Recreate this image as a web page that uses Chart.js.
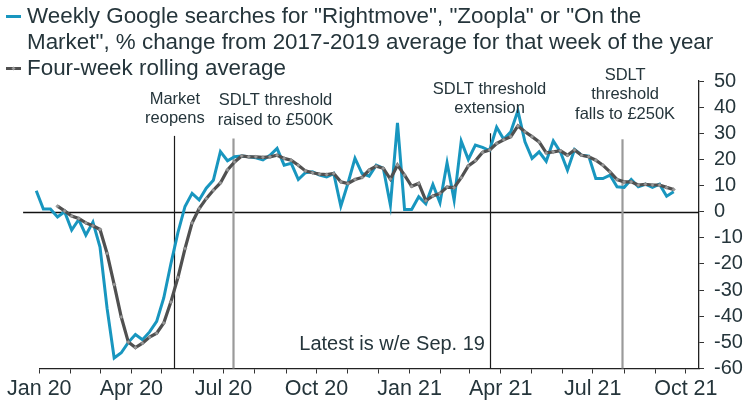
<!DOCTYPE html>
<html>
<head>
<meta charset="utf-8">
<script src="https://cdn.jsdelivr.net/npm/chart.js@4.4.1/dist/chart.umd.min.js"></script>
<style>
  html, body { margin: 0; padding: 0; background: #ffffff; }
  #wrap { position: relative; width: 750px; height: 412px; }
</style>
</head>
<body>
<div id="wrap"><canvas id="chart" width="750" height="412"></canvas></div>
<script>
// ---------------- DATA ----------------
const firstWeekEnding = '2019-12-29';   // weekly series, one value per week, ending Sundays
const latestWeekEnding = '2021-09-19';

// Weekly Google searches, % change from 2017-2019 average for that week
const weeklySearches = [
  8, 1, 1, -2, 0, -7, -3, -9, -4, -13.5,
  -37, -56, -54, -50, -47, -49, -46, -42, -33, -20,
  -8, 2, 7, 4.5, 9, 12, 23, 19.5, 21, 21.3,
  21, 20.6, 19.8, 21.6, 24.2, 17.8, 18.5, 12.3, 14.9, 15.3,
  14, 13.3, 14.6, 2.1, 10.8, 20.4, 14.6, 13.6, 17.8, 16.6,
  2.5, 34, 0.8, 0.8, 5.7, 3, 10.4, 3.4, 18.7, 4.4,
  27, 20, 25.5, 24.6, 23.4, 32.3, 27.7, 30.6, 38.6, 26.7,
  20.4, 22.9, 19.3, 27.1, 22.9, 15.9, 23.8, 21.6, 21.3, 12.7,
  12.7, 14, 9.5, 9.3, 12.3, 9.5, 10.5, 9.3, 10.5, 5.9,
  7.6
];

// Four-week rolling average
const rollingAverage = [
  null, null, null, 2.1, 0.3, -1.7, -2.6, -4.3, -5.4, -6.8,
  -16, -27.9, -40.3, -49.9, -52, -50.3, -48, -46.5, -42.6, -34.6,
  -25.2, -14.1, -4.3, 1.2, 5, 8.2, 11, 16, 19, 21.3,
  21, 21, 20.8, 21, 21.6, 20.4, 19.7, 17.8, 15.6, 14.9,
  14.4, 14.2, 14.6, 11.4, 10.8, 12.3, 13.1, 15.9, 17.4, 16.6,
  12.5, 17.8, 14, 9.7, 10.8, 4.2, 6, 7, 9.4, 9.2,
  13, 17.5, 19.5, 22.7, 23.6, 26.1, 27.5, 28.7, 32.8, 30.6,
  28.7, 26.7, 22.5, 22.9, 23.3, 21.6, 23.6, 21.6, 21, 19.7,
  17.8, 15.2, 12.3, 11.4, 11.4, 10.2, 10.5, 10.2, 10.2, 9.3,
  8.5
];

// Axis
const xAxisStart = '2020-01-01';
const xAxisEnd = '2021-10-14';
const monthTickCount = 22;                // Jan 20 .. Oct 21
const monthNames = ['Jan','Feb','Mar','Apr','May','Jun','Jul','Aug','Sep','Oct','Nov','Dec'];
const labelledMonths = [0, 3, 6, 9];
const yMin = -60, yMax = 50, yStep = 10;
const zeroLineFrom = '2019-12-16';

// Legend texts
const legendSeries1 = ['Weekly Google searches for "Rightmove", "Zoopla" or "On the',
                       'Market", % change from 2017-2019 average for that week of the year'];
const legendSeries2 = ['Four-week rolling average'];
const footnote = 'Latest is w/e Sep. 19';

// Events (date, top of marker line in % units, label lines)
const eventDates = ['2020-05-13', '2020-07-10', '2021-03-21', '2021-07-30'];
const eventTops = [29, 28, 30, 27.7];
const eventLabels = [
  ['Market', 'reopens'],
  ['SDLT threshold', 'raised to £500K'],
  ['SDLT threshold', 'extension'],
  ['SDLT', 'threshold', 'falls to £250K']
];

// ---------------- STYLE ----------------
const TEXT = '#25353b';
const BLUE = '#1896bf';
const GREY = '#505050';
const FONT = '"Liberation Sans", Arial, sans-serif';
const eventStyles = [
  { color: '#1b1b1b', width: 1.2, dx: 1,  y0: 99,  lh: 19.5 },
  { color: '#9a9a9a', width: 2.2, dx: 43, y0: 100, lh: 20 },
  { color: '#1b1b1b', width: 1.2, dx: 0,  y0: 89,  lh: 19.5 },
  { color: '#9a9a9a', width: 2.2, dx: 3,  y0: 75,  lh: 19.5 }
];

// ---------------- HELPERS ----------------
const dayOf = s => (Date.UTC(+s.slice(0,4), +s.slice(5,7) - 1, +s.slice(8,10)) - Date.UTC(2020, 0, 1)) / 864e5;
const firstDay = dayOf(firstWeekEnding);
const weekDays = weeklySearches.map((_, i) => firstDay + 7 * i);
const monthTicks = [];
for (let k = 0; k < monthTickCount; k++) {
  const y = 2020 + Math.floor(k / 12), m = k % 12;
  monthTicks.push({ value: (Date.UTC(y, m, 1) - Date.UTC(2020, 0, 1)) / 864e5, m, y });
}

const overlay = {
  id: 'overlay',
  beforeDatasetsDraw(chart) {
    const { ctx, chartArea, scales: { x, y } } = chart;
    ctx.save();
    const y0 = Math.round(y.getPixelForValue(0)) + 0.5;
    ctx.strokeStyle = '#111';
    ctx.lineWidth = 1.3;
    ctx.beginPath();
    ctx.moveTo(x.getPixelForValue(dayOf(zeroLineFrom)), y0);
    ctx.lineTo(chartArea.right, y0);
    ctx.stroke();
    eventDates.forEach((d, k) => {
      const st = eventStyles[k];
      const px = Math.round(x.getPixelForValue(dayOf(d))) + 0.5;
      ctx.strokeStyle = st.color;
      ctx.lineWidth = st.width;
      ctx.beginPath();
      ctx.moveTo(px, y.getPixelForValue(eventTops[k]));
      ctx.lineTo(px, chartArea.bottom);
      ctx.stroke();
    });
    ctx.restore();
  },
  afterDraw(chart) {
    const { ctx, scales: { x }, chartArea } = chart;
    ctx.save();
    ctx.fillStyle = TEXT;
    ctx.font = '16.5px ' + FONT;
    ctx.textAlign = 'center';
    ctx.textBaseline = 'middle';
    eventDates.forEach((d, k) => {
      const st = eventStyles[k];
      const px = x.getPixelForValue(dayOf(d)) + st.dx;
      eventLabels[k].forEach((t, j) => ctx.fillText(t, px, st.y0 + j * st.lh));
    });
    ctx.font = '20px ' + FONT;
    ctx.textBaseline = 'alphabetic';
    ctx.fillText(footnote, (chartArea.left + chartArea.right) / 2 + 23, 350);
    ctx.textAlign = 'left';
    ctx.font = '22.4px ' + FONT;
    legendSeries1.forEach((t, j) => ctx.fillText(t, 27, 23 + j * 26));
    legendSeries2.forEach((t, j) => ctx.fillText(t, 27, 75 + j * 26));
    ctx.lineWidth = 3;
    ctx.strokeStyle = BLUE;
    ctx.beginPath(); ctx.moveTo(6, 16.5); ctx.lineTo(21, 16.5); ctx.stroke();
    ctx.strokeStyle = GREY;
    ctx.beginPath(); ctx.moveTo(6, 68.5); ctx.lineTo(21, 68.5); ctx.stroke();
    ctx.fillStyle = '#9a9a9a';
    ctx.beginPath();
    ctx.moveTo(13.5, 66.5); ctx.lineTo(15.5, 68.5); ctx.lineTo(13.5, 70.5); ctx.lineTo(11.5, 68.5); ctx.closePath();
    ctx.fill();
    ctx.restore();
  }
};

new Chart(document.getElementById('chart'), {
  type: 'line',
  data: {
    datasets: [
      {
        label: 'Four-week rolling average',
        data: rollingAverage.map((v, i) => ({ x: weekDays[i], y: v })),
        borderColor: GREY,
        borderWidth: 3.2,
        pointStyle: 'rectRot',
        pointRadius: 1.8,
        pointBackgroundColor: '#9a9a9a',
        pointBorderColor: '#8a8a8a',
        pointBorderWidth: 0.5,
        tension: 0,
        spanGaps: false,
        clip: false,
        order: 0
      },
      {
        label: 'Weekly Google searches',
        data: weeklySearches.map((v, i) => ({ x: weekDays[i], y: v })),
        borderColor: BLUE,
        borderWidth: 3,
        pointRadius: 0,
        tension: 0,
        clip: false,
        order: 1
      }
    ]
  },
  options: {
    responsive: false,
    animation: false,
    events: [],
    layout: { padding: { top: 81, left: 39.3, right: 0, bottom: 0 } },
    plugins: { legend: { display: false }, tooltip: { enabled: false }, title: { display: false } },
    scales: {
      x: {
        type: 'linear',
        min: dayOf(xAxisStart),
        max: dayOf(xAxisEnd),
        afterBuildTicks: s => { s.ticks = monthTicks.map(t => ({ value: t.value })); },
        afterFit: s => { s.height = 43.5; },
        ticks: {
          autoSkip: false,
          maxRotation: 0,
          padding: 3,
          color: TEXT,
          font: { family: FONT, size: 21.5 },
          callback: (v) => {
            const t = monthTicks.find(mt => mt.value === v);
            return t && labelledMonths.includes(t.m) ? monthNames[t.m] + ' ' + String(t.y).slice(2) : '';
          }
        },
        grid: { display: true, drawOnChartArea: false, drawTicks: true, tickLength: 5, color: '#333', lineWidth: 1 },
        border: { display: true, color: '#222', width: 1.3 }
      },
      y: {
        type: 'linear',
        position: 'right',
        min: yMin,
        max: yMax,
        afterFit: s => { s.width = 51; },
        ticks: {
          stepSize: yStep,
          autoSkip: false,
          padding: 10,
          color: TEXT,
          font: { family: FONT, size: 20 }
        },
        grid: { display: true, drawOnChartArea: false, drawTicks: true, tickLength: 5, color: '#333', lineWidth: 1 },
        border: { display: true, color: '#222', width: 1.3 }
      }
    }
  },
  plugins: [overlay]
});
</script>
</body>
</html>
